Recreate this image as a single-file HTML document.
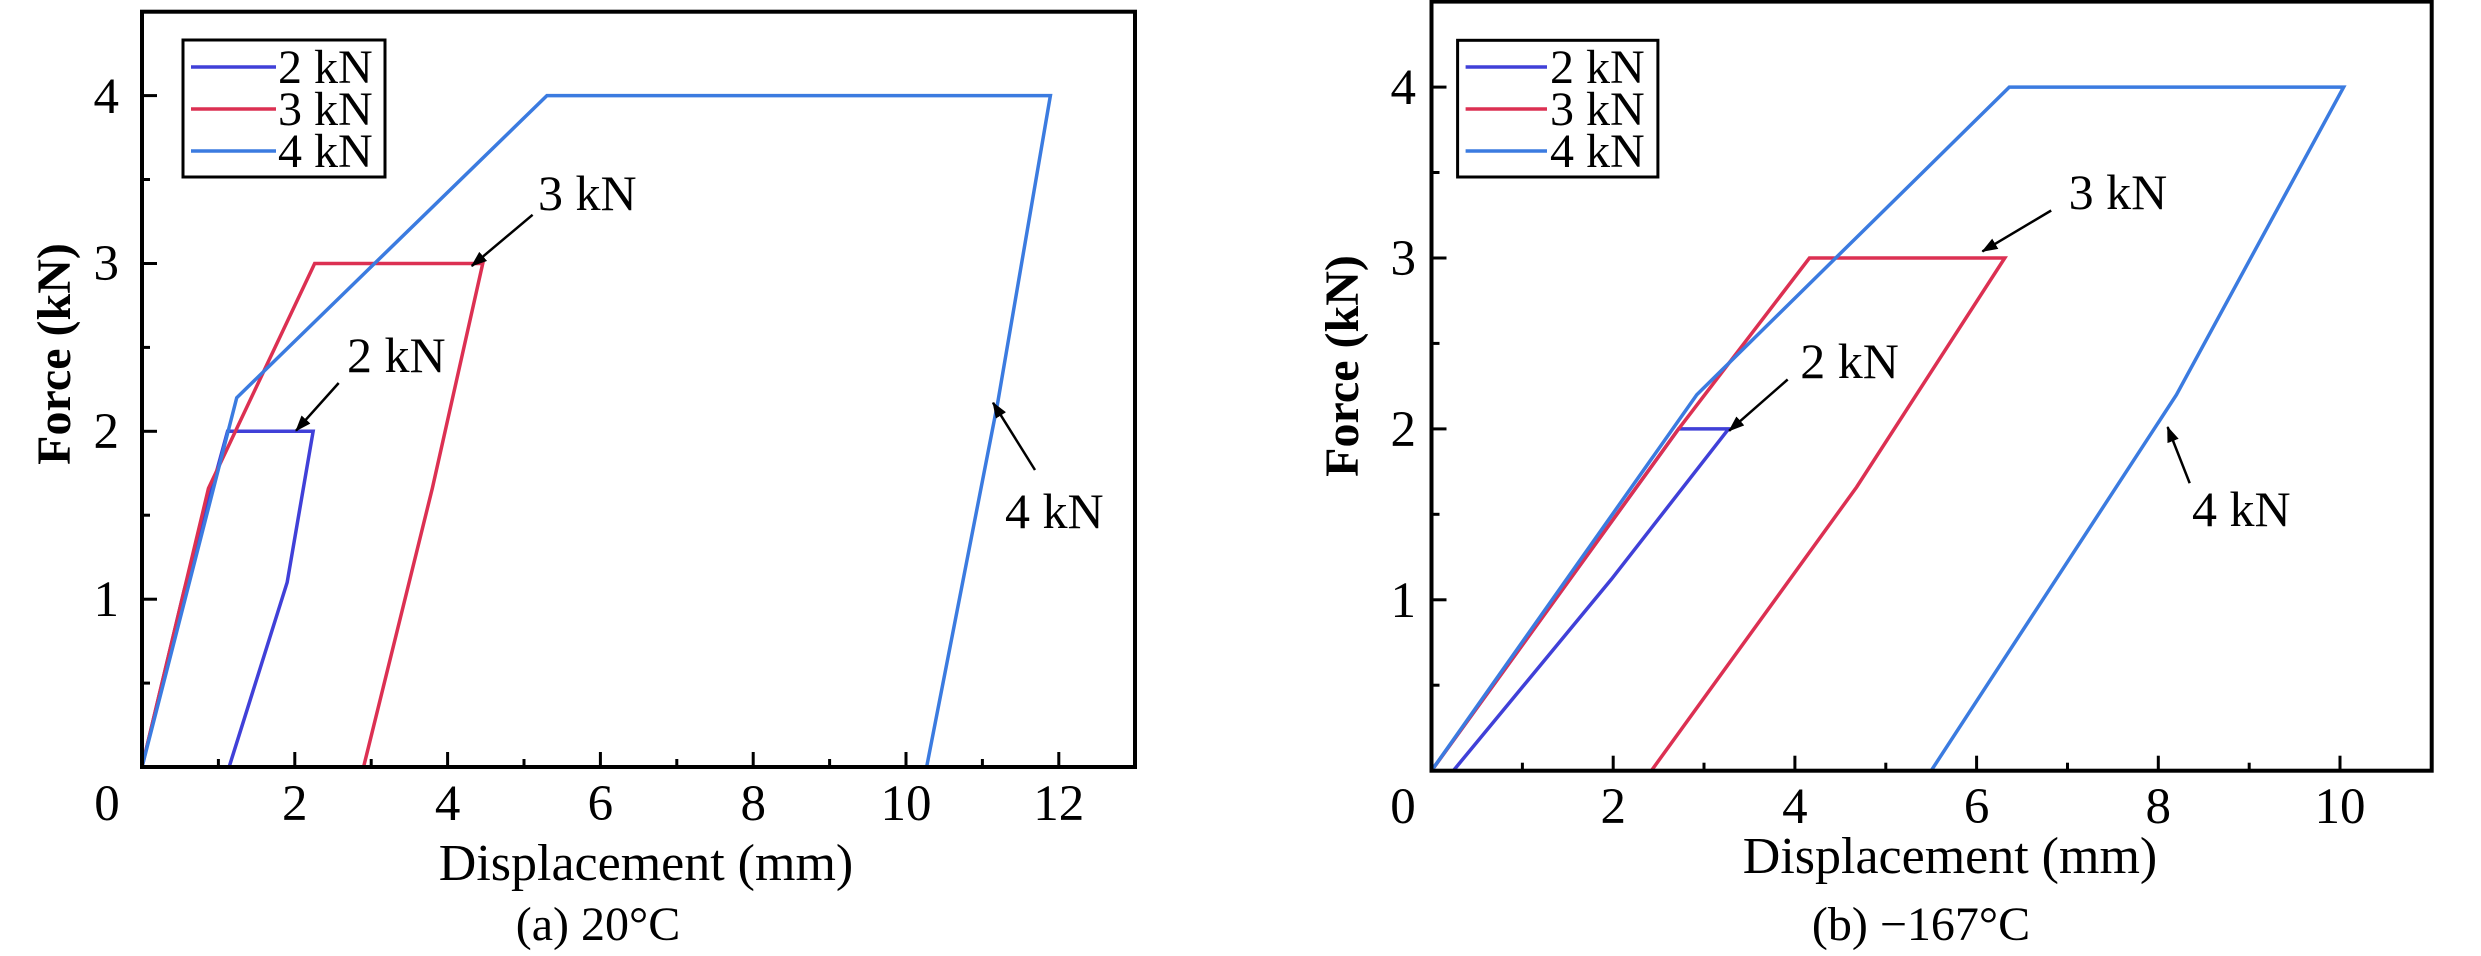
<!DOCTYPE html>
<html><head><meta charset="utf-8"><style>
html,body{margin:0;padding:0;background:#fff;}
svg{display:block;}
text{font-family:"Liberation Serif","Times New Roman",serif;fill:#000;}
</style></head><body>
<svg width="2481" height="956" viewBox="0 0 2481 956" xmlns="http://www.w3.org/2000/svg">
<defs>
<marker id="ah" markerWidth="16" markerHeight="12" refX="15" refY="6" orient="auto" markerUnits="userSpaceOnUse">
<path d="M0,0 L16,6 L0,12 Z" fill="#000"/>
</marker>
</defs>

<!-- LEFT PANEL -->
<g transform="translate(142,767) scale(76.4,-167.85)" fill="none" stroke-width="3.5" stroke-linejoin="miter">
<polyline vector-effect="non-scaling-stroke" stroke="#4040d8" points="0,0 0.55,1.05 1.12,2 2.24,2 1.9,1.1 1.14,0"/>
<polyline vector-effect="non-scaling-stroke" stroke="#dc3052" points="0,0 0.87,1.66 2.26,3 4.46,3 3.8,1.66 2.9,0"/>
<polyline vector-effect="non-scaling-stroke" stroke="#3b7be0" points="0,0 1.24,2.2 5.3,4 11.89,4 11.2,2.17 10.27,0"/>
</g>
<g stroke="#000" stroke-width="4" fill="none">
<rect x="142" y="11.7" width="993" height="755.3"/>
</g>
<g stroke="#000" stroke-width="3">
<line x1="218.4" y1="767" x2="218.4" y2="759"/><line x1="294.8" y1="767" x2="294.8" y2="752"/>
<line x1="371.2" y1="767" x2="371.2" y2="759"/><line x1="447.6" y1="767" x2="447.6" y2="752"/>
<line x1="524" y1="767" x2="524" y2="759"/><line x1="600.4" y1="767" x2="600.4" y2="752"/>
<line x1="676.8" y1="767" x2="676.8" y2="759"/><line x1="753.2" y1="767" x2="753.2" y2="752"/>
<line x1="829.6" y1="767" x2="829.6" y2="759"/><line x1="906" y1="767" x2="906" y2="752"/>
<line x1="982.4" y1="767" x2="982.4" y2="759"/><line x1="1058.8" y1="767" x2="1058.8" y2="752"/>
<line x1="142" y1="683.1" x2="150" y2="683.1"/><line x1="142" y1="599.2" x2="157" y2="599.2"/>
<line x1="142" y1="515.2" x2="150" y2="515.2"/><line x1="142" y1="431.3" x2="157" y2="431.3"/>
<line x1="142" y1="347.4" x2="150" y2="347.4"/><line x1="142" y1="263.5" x2="157" y2="263.5"/>
<line x1="142" y1="179.5" x2="150" y2="179.5"/><line x1="142" y1="95.6" x2="157" y2="95.6"/>
</g>
<g font-size="51" text-anchor="middle">
<text x="107" y="820">0</text><text x="294.8" y="820">2</text><text x="447.6" y="820">4</text>
<text x="600.4" y="820">6</text><text x="753.2" y="820">8</text><text x="906" y="820">10</text><text x="1058.8" y="820">12</text>
</g>
<g font-size="51" text-anchor="end">
<text x="119" y="616">1</text><text x="119" y="448">2</text><text x="119" y="280">3</text><text x="119" y="113">4</text>
</g>
<text x="646" y="880" font-size="52" text-anchor="middle">Displacement (mm)</text>
<text x="598" y="940" font-size="48" text-anchor="middle">(a) 20°C</text>
<text transform="translate(70,354) rotate(-90)" font-size="48" font-weight="bold" text-anchor="middle">Force (kN)</text>
<rect x="183" y="40" width="202" height="137" fill="#fff" stroke="#000" stroke-width="3"/>
<line x1="191" y1="67" x2="276" y2="67" stroke="#4040d8" stroke-width="3.5"/>
<line x1="191" y1="109" x2="276" y2="109" stroke="#dc3052" stroke-width="3.5"/>
<line x1="191" y1="151" x2="276" y2="151" stroke="#3b7be0" stroke-width="3.5"/>
<g font-size="48"><text x="278" y="83">2 kN</text><text x="278" y="125">3 kN</text><text x="278" y="167">4 kN</text></g>
<g stroke="#000" stroke-width="2.5" marker-end="url(#ah)">
<line x1="532.6" y1="214.8" x2="471.7" y2="266"/>
<line x1="338.7" y1="383" x2="296" y2="430.7"/>
<line x1="1035" y1="470" x2="993" y2="402.7"/>
</g>
<g font-size="50"><text x="538" y="210">3 kN</text><text x="347" y="372">2 kN</text><text x="1005" y="528">4 kN</text></g>

<!-- RIGHT PANEL -->
<g transform="translate(1431.5,770.7) scale(90.85,-170.9)" fill="none" stroke-width="3.5">
<polyline vector-effect="non-scaling-stroke" stroke="#4040d8" points="0,0 2.72,2 3.27,2 1.98,1.12 0.24,0"/>
<polyline vector-effect="non-scaling-stroke" stroke="#dc3052" points="0,0 2.72,2 4.16,3 6.31,3 4.68,1.66 2.42,0"/>
<polyline vector-effect="non-scaling-stroke" stroke="#3b7be0" points="0,0 2.92,2.2 6.36,4 10.04,4 8.2,2.2 5.5,0"/>
</g>
<rect x="1431.5" y="1.6" width="1000.2" height="769.1" fill="none" stroke="#000" stroke-width="4"/>
<g stroke="#000" stroke-width="3">
<line x1="1522.4" y1="770.7" x2="1522.4" y2="762.7"/><line x1="1613.2" y1="770.7" x2="1613.2" y2="755.7"/>
<line x1="1704" y1="770.7" x2="1704" y2="762.7"/><line x1="1794.9" y1="770.7" x2="1794.9" y2="755.7"/>
<line x1="1885.8" y1="770.7" x2="1885.8" y2="762.7"/><line x1="1976.6" y1="770.7" x2="1976.6" y2="755.7"/>
<line x1="2067.5" y1="770.7" x2="2067.5" y2="762.7"/><line x1="2158.3" y1="770.7" x2="2158.3" y2="755.7"/>
<line x1="2249.2" y1="770.7" x2="2249.2" y2="762.7"/><line x1="2340" y1="770.7" x2="2340" y2="755.7"/>
<line x1="1431.5" y1="685.2" x2="1439.5" y2="685.2"/><line x1="1431.5" y1="599.8" x2="1446.5" y2="599.8"/>
<line x1="1431.5" y1="514.3" x2="1439.5" y2="514.3"/><line x1="1431.5" y1="428.9" x2="1446.5" y2="428.9"/>
<line x1="1431.5" y1="343.4" x2="1439.5" y2="343.4"/><line x1="1431.5" y1="258" x2="1446.5" y2="258"/>
<line x1="1431.5" y1="172.5" x2="1439.5" y2="172.5"/><line x1="1431.5" y1="87.1" x2="1446.5" y2="87.1"/>
</g>
<g font-size="51" text-anchor="middle">
<text x="1403" y="823">0</text><text x="1613.2" y="823">2</text><text x="1794.9" y="823">4</text>
<text x="1976.6" y="823">6</text><text x="2158.3" y="823">8</text><text x="2340" y="823">10</text>
</g>
<g font-size="51" text-anchor="end">
<text x="1416" y="617">1</text><text x="1416" y="446">2</text><text x="1416" y="275">3</text><text x="1416" y="104">4</text>
</g>
<text x="1950" y="873" font-size="52" text-anchor="middle">Displacement (mm)</text>
<text x="1921" y="940" font-size="48" text-anchor="middle">(b) −167°C</text>
<text transform="translate(1358,366) rotate(-90)" font-size="48" font-weight="bold" text-anchor="middle">Force (kN)</text>
<rect x="1457.6" y="40.3" width="200.3" height="136.7" fill="#fff" stroke="#000" stroke-width="3"/>
<line x1="1465.6" y1="67" x2="1547" y2="67" stroke="#4040d8" stroke-width="3.5"/>
<line x1="1465.6" y1="109" x2="1547" y2="109" stroke="#dc3052" stroke-width="3.5"/>
<line x1="1465.6" y1="151" x2="1547" y2="151" stroke="#3b7be0" stroke-width="3.5"/>
<g font-size="48"><text x="1550" y="83">2 kN</text><text x="1550" y="125">3 kN</text><text x="1550" y="167">4 kN</text></g>
<g stroke="#000" stroke-width="2.5" marker-end="url(#ah)">
<line x1="2051.2" y1="210.5" x2="1982.4" y2="251.4"/>
<line x1="1787.7" y1="379.5" x2="1729.1" y2="430.8"/>
<line x1="2189.7" y1="483.2" x2="2167.6" y2="427"/>
</g>
<g font-size="50"><text x="2068.6" y="209">3 kN</text><text x="1800.3" y="378">2 kN</text><text x="2192" y="526">4 kN</text></g>
</svg>
</body></html>
